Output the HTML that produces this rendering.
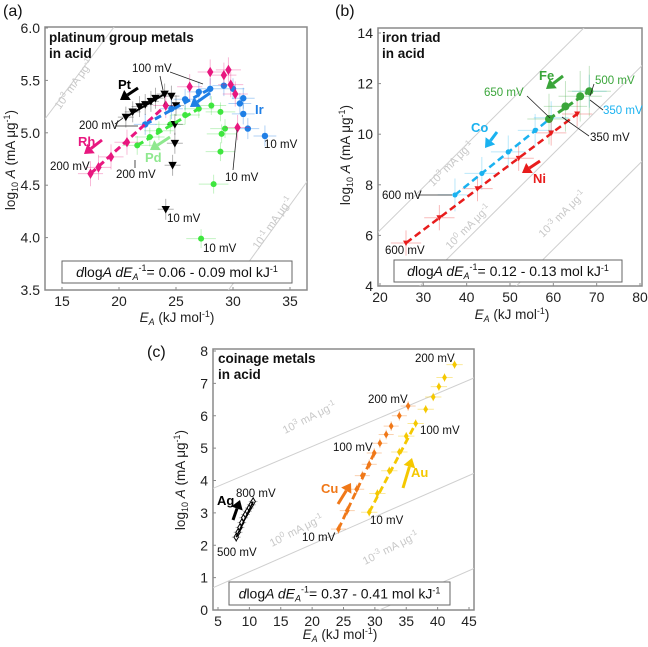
<!DOCTYPE html>
<html><head><meta charset="utf-8"><style>
html,body{margin:0;background:#fff;overflow:hidden;width:648px;height:647px;}
svg{display:block;font-family:"Liberation Sans",Arial,sans-serif;overflow:hidden;}
</style></head><body>
<svg id="fig" width="648" height="647" viewBox="0 0 648 647"></svg>
<script>
// ---- Panel A data (platinum group) ----
const ptE=[20.6,21.2,21.8,22.3,22.8,23.2,24.0,24.6,25.0,24.9,24.9,24.7,24.1];
const ptL=[5.15,5.2,5.25,5.27,5.3,5.33,5.37,5.35,5.26,5.08,4.9,4.69,4.27];
const rhE=[17.5,18.2,19.3,20.7,24.1,26.2,28.0,29.2,29.6,29.8,30.2,30.4];
const rhL=[4.61,4.67,4.77,4.91,5.26,5.44,5.58,5.55,5.6,5.46,5.37,5.05];
const irE=[22.3,24.6,25.8,27.0,28.0,29.2,30.0,30.6,30.9,30.9,31.3,32.8];
const irL=[5.08,5.23,5.32,5.39,5.42,5.45,5.42,5.28,5.33,5.18,5.04,4.97];
const pdE=[21.6,22.7,23.5,24.5,25.8,27.0,28.1,28.9,29.0,29.3,28.9,28.3,27.2];
const pdL=[4.88,4.96,5.02,5.08,5.17,5.23,5.26,5.2,4.99,5.04,4.82,4.51,3.99];
// ---- Panel B data (iron triad) ----
const niE=[26.0,33.7,42.5,52.0,59.5,65.5];
const niL=[5.7,6.7,7.85,9.05,10.05,10.8];
const coE=[37.3,43.5,49.6,55.8,59.5,68.3];
const coL=[7.6,8.45,9.3,10.15,10.65,11.7];
const feE=[59.0,62.8,66.2,68.3];
const feL=[10.6,11.1,11.5,11.7];
// ---- Panel C data (coinage) ----
const agE=[7.9,8.2,8.5,8.8,9.1,9.4,9.7,10.0,10.3,10.6];
const agL=[2.25,2.4,2.55,2.7,2.85,2.95,3.05,3.15,3.25,3.35];
const cuE=[24.2,25.6,27.1,28.0,29.1,29.9,30.8,31.8,32.6,33.9,35.3];
const cuL=[2.5,3.07,3.73,4.15,4.5,4.85,5.15,5.42,5.68,6.0,6.3];
const auE=[29.1,30.4,32.3,33.9,35.0,36.5,38.1,39.3,40.2,41.1,42.7];
const auL=[3.02,3.6,4.3,4.88,5.37,5.76,6.2,6.58,6.9,7.18,7.58];
// tick labels
const aXt=[15,20,25,30,35], aYt=[3.5,4.0,4.5,5.0,5.5,6.0];
const bXt=[20,30,40,50,60,70,80], bYt=[4,6,8,10,12,14];
const cXt=[5,10,15,20,25,30,35,40,45], cYt=[0,1,2,3,4,5,6,7,8];

const NS="http://www.w3.org/2000/svg";
const svg=document.getElementById('fig');
function el(tag,attrs,parent){const e=document.createElementNS(NS,tag);for(const k in attrs)e.setAttribute(k,attrs[k]);(parent||svg).appendChild(e);return e;}
function txt(s,x,y,o,parent){const t=el('text',Object.assign({x:x,y:y,'font-size':12},o||{}),parent);t.textContent=s;return t;}
function lin(a,b,c,d,col,w,dash,parent){return el('line',{x1:a,y1:b,x2:c,y2:d,stroke:col,'stroke-width':w||1,'stroke-dasharray':dash||'none'},parent);}
function mk(x0,x1,p0,p1){return v=>p0+(v-x0)*(p1-p0)/(x1-x0);}

const A={sx:mk(15,35,62,290),sy:mk(3.5,6.0,290,28),f:[45,27,262,263]};
const B={sx:mk(20,80,380,640),sy:mk(4,14,286,33),f:[378,28,264,258]};
const C={sx:mk(5,45,218,469),sy:mk(0,8,610,351),f:[213,349,261,261]};

function frame(P,name,xt,yt,fmt){
  const g=el('g',{});
  
  
  const [x,y,w,h]=P.f;
  const cp=el('clipPath',{id:name+'-clip'},g);el('rect',{x:x,y:y,width:w,height:h},cp);
  el('rect',{x:x,y:y,width:w,height:h,fill:'none',stroke:'#8a8a8a','stroke-width':1.5},g);
  xt.forEach(v=>{lin(P.sx(v),y+h,P.sx(v),y+h-3,'#8a8a8a',1,null,g);
    const t=txt(String(v),P.sx(v),y+h+16,{'text-anchor':'middle','font-size':14,fill:'#222'},g);
    });
  yt.forEach(v=>{lin(x,P.sy(v),x+3,P.sy(v),'#8a8a8a',1,null,g);
    const t=txt(fmt(v),x-5,P.sy(v)+5,{'text-anchor':'end','font-size':14,fill:'#222'},g);
    });
  return g;
}
function iso(P,g,name,slope,e0,l0,label,lx,ly,ang){
  const ex0=-50,ex1=200;
  const l=lin(P.sx(ex0),P.sy(l0+slope*(ex0-e0)),P.sx(ex1),P.sy(l0+slope*(ex1-e0)),'#cfcfcf',1,null,g);
  l.setAttribute('clip-path','url(#'+name+'-clip)');
  
  const t=el('text',{x:lx,y:ly,'font-size':11,fill:'#c8c8c8',transform:'rotate('+ang+' '+lx+' '+ly+')'},g);
  t.innerHTML=label;
  
}
function series(P,g,name,E,L,col,ecol,shape,xe,ye,sz){
  const sg=el('g',{},g);
  
  E.forEach((e,i)=>{const x=P.sx(e),y=P.sy(L[i]);
    lin(P.sx(e-xe),y,P.sx(e+xe),y,ecol,1,null,sg);
    lin(x,P.sy(L[i]-ye),x,P.sy(L[i]+ye),ecol,1,null,sg);});
  E.forEach((e,i)=>{const x=P.sx(e),y=P.sy(L[i]);let m,s=sz||4;
    if(shape==='tri')m=el('polygon',{points:(x-s)+','+(y-s*0.8)+' '+(x+s)+','+(y-s*0.8)+' '+x+','+(y+s),fill:col},sg);
    else if(shape==='dia')m=el('polygon',{points:x+','+(y-s*1.3)+' '+(x+s*0.8)+','+y+' '+x+','+(y+s*1.3)+' '+(x-s*0.8)+','+y,fill:col},sg);
    else if(shape==='odia')m=el('polygon',{points:x+','+(y-s*1.3)+' '+(x+s*0.8)+','+y+' '+x+','+(y+s*1.3)+' '+(x-s*0.8)+','+y,fill:'#fff',stroke:col,'stroke-width':1},sg);
    else m=el('circle',{cx:x,cy:y,r:s,fill:col},sg);
    });
}
function fit(P,g,name,E,L,i0,i1,col,w,dash){
  const l=lin(P.sx(E[i0]),P.sy(L[i0]),P.sx(E[i1]),P.sy(L[i1]),col,w,dash,g);
  
}
function arrow(g,name,x1,y1,x2,y2,col){
  const a=el('g',{},g);
  const dx=x2-x1,dy=y2-y1,L=Math.hypot(dx,dy),ux=dx/L,uy=dy/L,h=9,w=6;
  const bx=x2-ux*h,by=y2-uy*h;
  lin(x1,y1,bx,by,col,3,null,a);
  el('polygon',{points:x2+','+y2+' '+(bx-uy*w)+','+(by+ux*w)+' '+(bx+uy*w)+','+(by-ux*w),fill:col},a);
}
function note(g,s,x,y,col,o){const t=txt(s,x,y,Object.assign({'font-size':11.5,fill:col||'#111'},o||{}),g);return t;}
function leader(g,a,b,c,d){const l=lin(a,b,c,d,'#222',0.8,null,g);}
function box(g,x,y,w,h,val){
  const b=el('g',{},g);
  el('rect',{x:x,y:y,width:w,height:h,fill:'#fff',stroke:'#666','stroke-width':1},b);
  const t=el('text',{x:x+w/2,y:y+h/2+5,'text-anchor':'middle','font-size':14,fill:'#111'},b);
  t.innerHTML='<tspan font-style="italic">d</tspan>log<tspan font-style="italic">A d</tspan><tspan font-style="italic">E</tspan><tspan font-size="9" font-style="italic" dy="3">A</tspan><tspan font-size="9" dy="-9">-1</tspan><tspan dy="6">= '+val+' mol kJ</tspan><tspan font-size="9" dy="-5">-1</tspan>';
}
function axTitles(g,xcx,xy,ycx,ycy){
  const xt=el('text',{x:xcx,y:xy,'text-anchor':'middle','font-size':13.5,fill:'#222'},g);
  xt.innerHTML='<tspan font-style="italic">E</tspan><tspan font-style="italic" font-size="9" dy="3">A</tspan><tspan dy="-3"> (kJ mol</tspan><tspan font-size="9" dy="-5">-1</tspan><tspan dy="5">)</tspan>';
  
  const yt=el('text',{x:ycx,y:ycy,'text-anchor':'middle','font-size':13.5,fill:'#222',transform:'rotate(-90 '+ycx+' '+ycy+')'},g);
  yt.innerHTML='log<tspan font-size="9" dy="3">10</tspan><tspan dy="-3"> </tspan><tspan font-style="italic">A</tspan> (mA μg<tspan font-size="9" dy="-5">-1</tspan><tspan dy="5">)</tspan>';
  
}
function title(g,l1,l2,x,y){const t=txt(l1,x,y,{'font-size':13.5,'font-weight':'bold',fill:'#111'},g);
  const t2=txt(l2,x,y+16,{'font-size':13.5,'font-weight':'bold',fill:'#111'},g);}

// ===== Panel A =====
const gA=frame(A,'panel-a',aXt,aYt,v=>v.toFixed(1));
iso(A,gA,'panel-a',0.145,13.7,5.16,'10<tspan font-size="8" dy="-4">3</tspan><tspan dy="4"> mA μg</tspan><tspan font-size="8" dy="-4">-1</tspan>',60,110,-55);
iso(A,gA,'panel-a',0.15,29.6,3.5,'10<tspan font-size="8" dy="-4">-1</tspan><tspan dy="4"> mA μg</tspan><tspan font-size="8" dy="-4">-1</tspan>',258,250,-55);
series(A,gA,'pd',pdE,pdL,'#3ee63e','rgba(80,220,80,0.35)','circ',1.3,0.09,3);
series(A,gA,'ir',irE,irL,'#1f7fe6','rgba(30,127,230,0.35)','circ',1.0,0.1,3.2);
series(A,gA,'rh',rhE,rhL,'#e8177f','rgba(232,23,127,0.3)','dia',1.1,0.12,4);
series(A,gA,'pt',ptE,ptL,'#000','rgba(0,0,0,0.3)','tri',0.7,0.1,4.2);
fit(A,gA,'rh',rhE,rhL,0,4,'#e8177f',3,'7,4');
fit(A,gA,'ir',irE,irL,0,4,'#1f7fe6',3,'7,4');
fit(A,gA,'pd',pdE,pdL,0,5,'#3ee63e',3,'7,4');
fit(A,gA,'pt',ptE,ptL,0,6,'#000',2,null);
title(gA,'platinum group metals','in acid',49,42);
txt('(a)',3,16,{'font-size':16,fill:'#111'},gA);
note(gA,'Pt',118,89,'#000',{'font-weight':'bold','font-size':13});arrow(gA,'pt-arrow',138,88,120,100,'#000');
note(gA,'Rh',78,146,'#e8177f',{'font-weight':'bold','font-size':13});arrow(gA,'rh-arrow',102,140,84,154,'#e8177f');
note(gA,'Pd',145,162,'#8fe88f',{'font-weight':'bold','font-size':13});arrow(gA,'pd-arrow',170,137,150,150,'#8fe88f');
note(gA,'Ir',255,114,'#1f7fe6',{'font-weight':'bold','font-size':13});arrow(gA,'ir-arrow',210,93,190,107,'#1f7fe6');
note(gA,'100 mV',132,72);leader(gA,170,72,203,84);leader(gA,160,76,163,90);
note(gA,'200 mV',79,129);leader(gA,115,124,123,118);leader(gA,115,126,138,126);
note(gA,'200 mV',50,170);note(gA,'200 mV',116,178);leader(gA,135,168,135,160);
note(gA,'10 mV',264,148);note(gA,'10 mV',225,181);leader(gA,233,170,237,130);
note(gA,'10 mV',167,222);note(gA,'10 mV',203,252);
box(gA,62,261,230,22,'0.06 - 0.09');
axTitles(gA,177,322,15,160);

// ===== Panel B =====
const gB=frame(B,'panel-b',bXt,bYt,v=>String(v));
iso(B,gB,'panel-b',0.17,19.1,6.05,'10<tspan font-size="8" dy="-4">3</tspan><tspan dy="4"> mA μg</tspan><tspan font-size="8" dy="-4">-1</tspan>',433,187,-45);
iso(B,gB,'panel-b',0.17,40.4,5.9,'10<tspan font-size="8" dy="-4">0</tspan><tspan dy="4"> mA μg</tspan><tspan font-size="8" dy="-4">-1</tspan>',450,250,-45);
iso(B,gB,'panel-b',0.17,55,4.6,'10<tspan font-size="8" dy="-4">-3</tspan><tspan dy="4"> mA μg</tspan><tspan font-size="8" dy="-4">-1</tspan>',543,238,-45);
series(B,gB,'co',coE,coL,'#1ab2f0','rgba(26,178,240,0.3)','circ',4,0.65,2.6);
series(B,gB,'fe',feE,feL,'#3aa53a','rgba(58,165,58,0.3)','circ',5,1.0,4);
series(B,gB,'ni',niE,niL,'#e81c1c','rgba(232,28,28,0.3)','tri',3.5,0.5,3);
fit(B,gB,'co',coE,coL,0,4,'#1ab2f0',2.5,'7,4');
fit(B,gB,'fe',feE,feL,0,3,'#3aa53a',3,'7,4');
fit(B,gB,'ni',niE,niL,0,5,'#e81c1c',2.5,'7,4');
title(gB,'iron triad','in acid',382,42);
txt('(b)',335,16,{'font-size':16,fill:'#111'},gB);
note(gB,'Fe',539,80,'#3aa53a',{'font-weight':'bold','font-size':13});arrow(gB,'fe-arrow',563,76,546,89,'#3aa53a');
note(gB,'Co',471,132,'#1ab2f0',{'font-weight':'bold','font-size':13});arrow(gB,'co-arrow',497,132,485,148,'#1ab2f0');
note(gB,'Ni',533,183,'#e81c1c',{'font-weight':'bold','font-size':13});arrow(gB,'ni-arrow',540,161,522,173,'#e81c1c');
note(gB,'650 mV',484,96,'#3aa53a');leader(gB,527,96,550,118);
note(gB,'500 mV',595,84,'#3aa53a');leader(gB,594,84,590,96);
note(gB,'350 mV',603,114,'#1ab2f0');leader(gB,590,100,603,110);
note(gB,'350 mV',590,141);leader(gB,589,136,562,117);
note(gB,'600 mV',382,199);leader(gB,418,195,452,195);
note(gB,'600 mV',385,254);
box(gB,394,260,228,22,'0.12 - 0.13');
axTitles(gB,512,319,350,155);

// ===== Panel C =====
const gC=frame(C,'panel-c',cXt,cYt,v=>String(v));
iso(C,gC,'panel-c',0.082,4,3.74,'10<tspan font-size="8" dy="-4">3</tspan><tspan dy="4"> mA μg</tspan><tspan font-size="8" dy="-4">-1</tspan>',285,434,-27);
iso(C,gC,'panel-c',0.085,4,0.67,'10<tspan font-size="8" dy="-4">0</tspan><tspan dy="4"> mA μg</tspan><tspan font-size="8" dy="-4">-1</tspan>',272,547,-27);
iso(C,gC,'panel-c',0.085,46,1.3,'10<tspan font-size="8" dy="-4">-3</tspan><tspan dy="4"> mA μg</tspan><tspan font-size="8" dy="-4">-1</tspan>',365,565,-27);
series(C,gC,'au',auE,auL,'#f5c800','rgba(245,200,0,0.4)','dia',1.3,0.13,3);
series(C,gC,'cu',cuE,cuL,'#f07818','rgba(240,120,24,0.35)','dia',1.2,0.15,3);
series(C,gC,'ag',agE,agL,'#000','rgba(0,0,0,0.3)','odia',0.7,0.15,2.8);
fit(C,gC,'cu',cuE,cuL,0,5,'#f07818',2.8,'7,4');
fit(C,gC,'au',auE,auL,0,5,'#f5c800',2.8,'7,4');
fit(C,gC,'ag',agE,agL,0,9,'#000',1.5,null);
title(gC,'coinage metals','in acid',218,363);
txt('(c)',147,357,{'font-size':16,fill:'#111'},gC);
note(gC,'Cu',321,493,'#f07818',{'font-weight':'bold','font-size':13});arrow(gC,'cu-arrow',338,504,351,483,'#f07818');
note(gC,'Au',411,477,'#f5c800',{'font-weight':'bold','font-size':13});arrow(gC,'au-arrow',403,488,412,458,'#f5c800');
note(gC,'Ag',217,505,'#000',{'font-weight':'bold','font-size':13});arrow(gC,'ag-arrow',233,520,240,500,'#000');
note(gC,'200 mV',415,362);note(gC,'200 mV',368,403);note(gC,'100 mV',420,434);note(gC,'100 mV',333,451);
note(gC,'10 mV',370,524);note(gC,'10 mV',302,541);note(gC,'800 mV',236,497);note(gC,'500 mV',217,556);
box(gC,229,582,221,23,'0.37 - 0.41');
axTitles(gC,340,639,185,480);
</script>
</body></html>
